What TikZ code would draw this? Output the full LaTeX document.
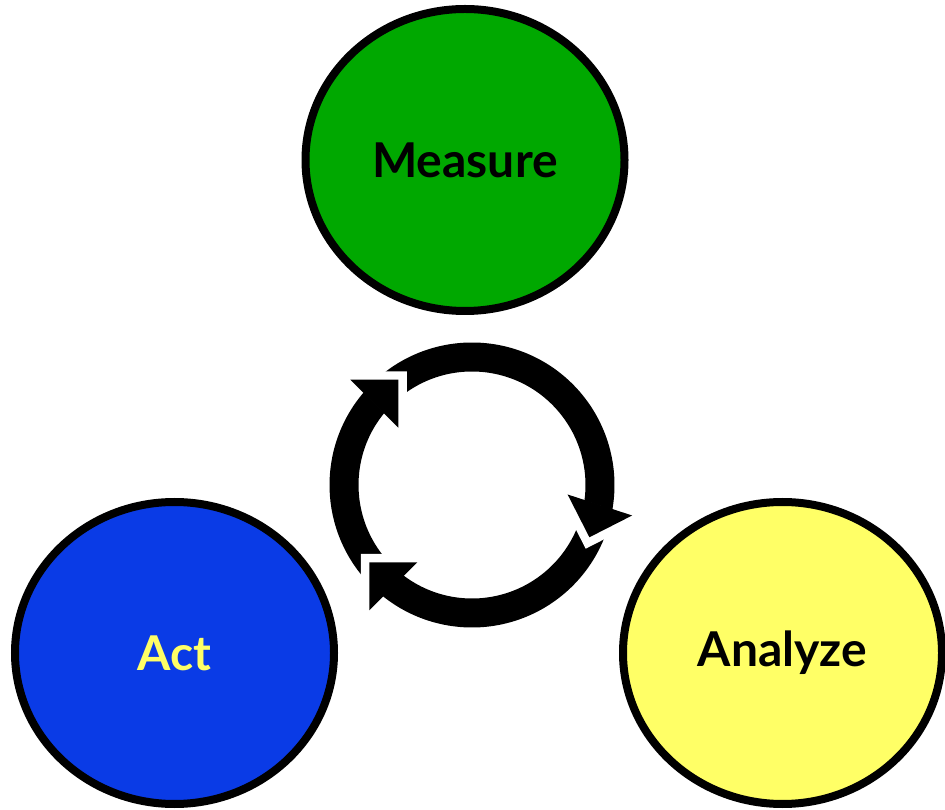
\documentclass[tikz,border=0pt]{standalone}
\usepackage{fontspec}
\setmainfont{Lato}
\usetikzlibrary{shapes.geometric,calc}
\definecolor{mgreen}{HTML}{00A800}
\definecolor{mblue}{HTML}{0A3BE6}
\definecolor{myellow}{HTML}{FFFF66}
\tikzset{
  stage/.style={ellipse, draw=black, line width=8pt, inner sep=0pt,
    minimum width=319pt, minimum height=302pt,
    font=\fontsize{48}{54}\selectfont\bfseries},
  shaft/.style={line width=29pt, black, line cap=butt},
  notch/.style={fill=white},
  head/.style={fill=black},
}
\begin{document}
\begin{tikzpicture}[x=1pt,y=1pt]
\useasboundingbox (0,0) rectangle (945,809);
\node[stage, fill=mgreen, text=black] (measure) at (465,649) {Measure};
\node[stage, fill=mblue, text=myellow] (act) at (174.5,156) {Act};
\node[stage, fill=myellow, text=black] (analyze) at (782.5,156) {Analyze};
\coordinate (c) at (472,324);
\path (c) ++(125:128.5) coordinate (tL);
\path (c) ++(-24:128.5) coordinate (tR);
\path (c) ++(217:128.5) coordinate (tB);
% shafts
\draw[shaft] (c) ++(225:128) arc[start angle=225, end angle=138, radius=128];
\draw[shaft] (c) ++(133:128) arc[start angle=133, end angle=-11, radius=128];
\draw[shaft] (c) ++(-16:128) arc[start angle=-16, end angle=-130, radius=128];
% notches cut into the start of each following arrow
\fill[notch] ($(tL)+(45:12)$) -- ($(tL)+(45:12)+(180:64)$) -- ($(tL)+(45:12)+(-90:64)$) -- cycle;
\fill[notch] ($(tR)+(-108:12)$) -- ($(tR)+(-108:12)+(27:64)$) -- ($(tR)+(-108:12)+(117:64)$) -- cycle;
\fill[notch] ($(tB)+(135:12)$) -- ($(tB)+(135:12)+(270:64)$) -- ($(tB)+(135:12)+(0:64)$) -- cycle;
% arrow heads
\fill[head] (tL) -- ($(tL)+(180:48)$) -- ($(tL)+(-90:48)$) -- cycle;
\fill[head] (tR) -- ($(tR)+(27:48)$) -- ($(tR)+(117:48)$) -- cycle;
\fill[head] (tB) -- ($(tB)+(270:48)$) -- ($(tB)+(0:48)$) -- cycle;
\end{tikzpicture}
\end{document}
